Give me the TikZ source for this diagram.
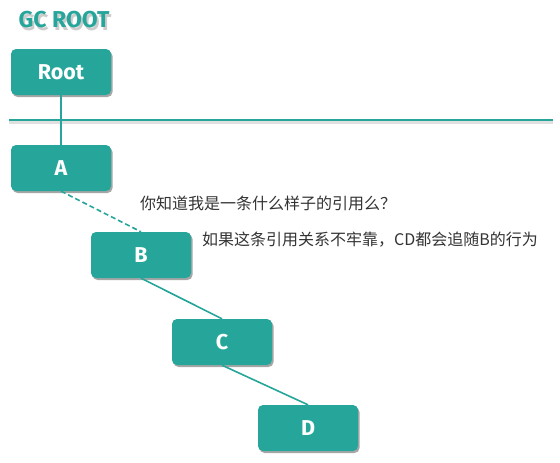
\documentclass[tikz,border=0pt]{standalone}
\usepackage{fontspec}
\setmainfont{Fira Sans}
\newfontfamily\cjk{Noto Sans CJK SC}
\usetikzlibrary{shadows}
\definecolor{teal1}{HTML}{26A69A}
\definecolor{txt}{HTML}{333333}
\begin{document}
\begin{tikzpicture}[x=1pt,y=-1pt,
  obj/.style={fill=teal1, rounded corners=5pt, minimum width=100pt, minimum height=46pt,
    text=white, font=\fontsize{21.5}{24}\selectfont\bfseries, inner sep=0pt,
    drop shadow={shadow xshift=1.5pt, shadow yshift=-2pt, opacity=0.35, fill=black}},
  link/.style={draw=teal1, line width=1.6pt},
  titlefont/.style={font=\fontsize{23}{26}\selectfont\bfseries, inner sep=0pt},
  note/.style={text=txt, font=\cjk\fontsize{16}{19}\selectfont, anchor=west, inner sep=0pt}]
\useasboundingbox (0,0) rectangle (560,463);
\node[titlefont, text=black, opacity=0.2] (tshadow) at (66,23) {GC ROOT};
\node[titlefont, text=teal1] (title) at (64,20) {GC ROOT};
\coordinate (hl) at (9,120);
\coordinate (hr) at (553,120);
\draw[line width=3pt, black!12] ([yshift=-2.5pt]hl) -- ([yshift=-2.5pt]hr);
\draw[link] (hl) -- (hr);
\node[obj] (root) at (61,72) {Root};
\node[obj] (A) at (61,168) {A};
\node[obj] (B) at (141,255) {B};
\node[obj] (C) at (222,342) {C};
\node[obj] (D) at (308,428) {D};
\draw[link] (root.south) -- (A.north);
\draw[link, dash pattern=on 5pt off 3pt] (A.south) -- (B.north);
\draw[link] (B.south) -- (C.north);
\draw[link] (C.south) -- (D.north);
\node[note] (n1) at (140,203) {你知道我是一条什么样子的引用么？};
\node[note] (n2) at (202,240) {如果这条引用关系不牢靠，CD都会追随B的行为};
\end{tikzpicture}
\end{document}
